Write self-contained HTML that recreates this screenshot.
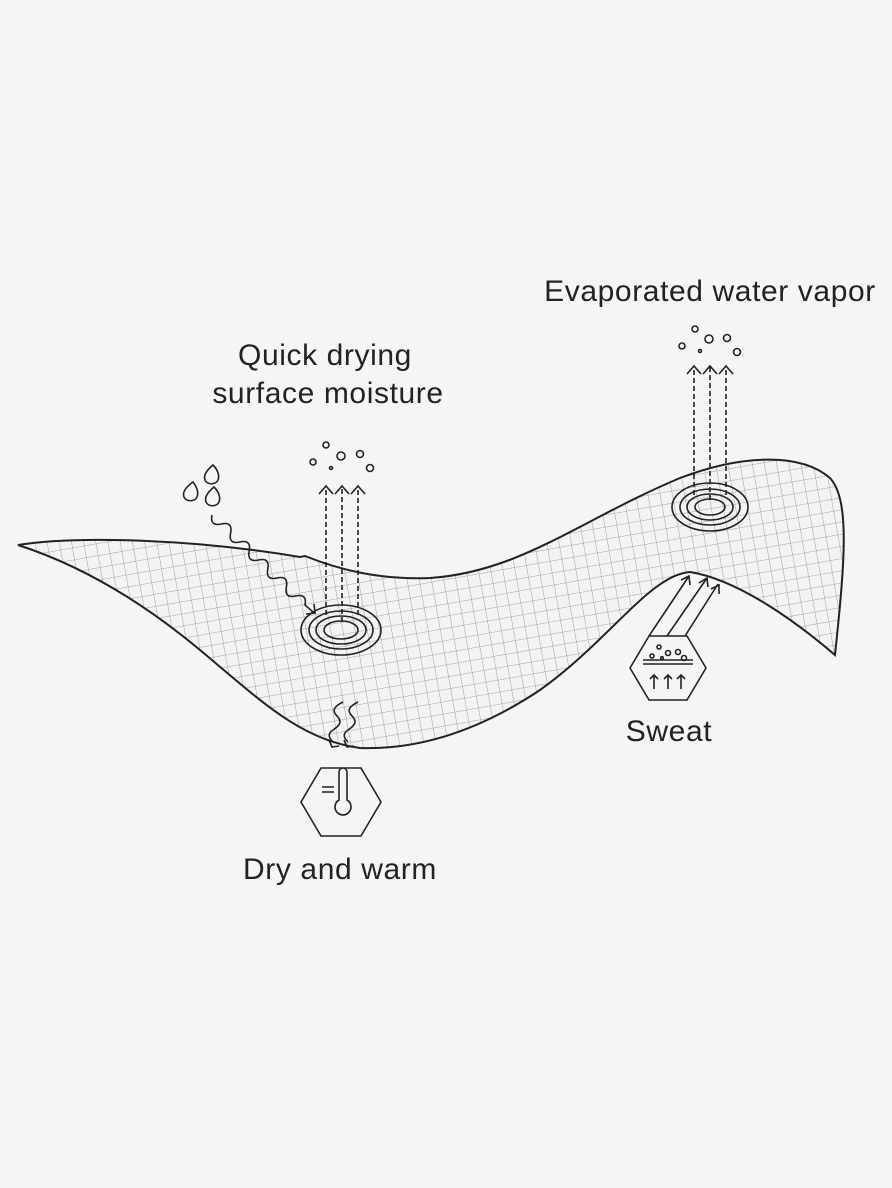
<!DOCTYPE html>
<html><head><style>
html,body{margin:0;padding:0;background:#f5f5f5;}
svg{display:block}
text{font-family:"Liberation Sans",sans-serif;fill:#222;font-size:30px;letter-spacing:0.6px;}
</style></head><body>
<svg width="892" height="1188" viewBox="0 0 892 1188" xmlns="http://www.w3.org/2000/svg">
<defs>
<pattern id="g" width="12" height="12" patternUnits="userSpaceOnUse" patternTransform="rotate(-10)">
<path d="M0 0H12M0 0V12" stroke="#8a8a8a" stroke-width="0.8" fill="none"/>
</pattern>
<clipPath id="c"><path d="M18 545 C80 535 200 540 300 557 L305 556 C340 570 380 580 430 578 C520 572 580 520 680 478 C740 455 800 452 830 478 C850 500 845 560 835 655 C800 625 740 580 690 572 C650 575 610 640 540 690 C480 730 420 750 360 748 C300 740 260 700 200 650 C140 600 80 565 18 545 Z"/></clipPath>
</defs>
<g clip-path="url(#c)"><rect x="0" y="400" width="892" height="400" fill="#f3f3f3"/><rect x="0" y="400" width="892" height="400" fill="url(#g)"/></g>
<path d="M18 545 C80 535 200 540 300 557 L305 556 C340 570 380 580 430 578 C520 572 580 520 680 478 C740 455 800 452 830 478 C850 500 845 560 835 655 C800 625 740 580 690 572 C650 575 610 640 540 690 C480 730 420 750 360 748 C300 740 260 700 200 650 C140 600 80 565 18 545 Z" fill="none" stroke="#222" stroke-width="2"/>

<g fill="none" stroke="#222" stroke-width="1.6">
<ellipse cx="341" cy="630" rx="40" ry="25"/><ellipse cx="341" cy="630" rx="32" ry="19"/><ellipse cx="341" cy="630" rx="25" ry="14"/><ellipse cx="341" cy="630" rx="17" ry="9"/>
<ellipse cx="710" cy="507" rx="38" ry="24"/><ellipse cx="710" cy="507" rx="30" ry="18"/><ellipse cx="710" cy="507" rx="23" ry="13"/><ellipse cx="710" cy="507" rx="15" ry="8"/>
<g stroke-dasharray="5 3"><path d="M326 615V486M342 622V486M358 615V486"/><path d="M694 495V366M710 500V366M726 495V366"/></g>
<path d="M319 494l7-8 7 8M335 494l7-8 7 8M351 494l7-8 7 8M687 374l7-8 7 8M703 374l7-8 7 8M719 374l7-8 7 8"/>
<circle cx="326" cy="445" r="3"/><circle cx="341" cy="456" r="4"/><circle cx="360" cy="454" r="3.5"/><circle cx="313" cy="462" r="3"/><circle cx="331" cy="468" r="1.5"/><circle cx="370" cy="468" r="3.5"/>
<circle cx="695" cy="329" r="3"/><circle cx="709" cy="339" r="4"/><circle cx="727" cy="338" r="3.5"/><circle cx="682" cy="346" r="3"/><circle cx="700" cy="351" r="1.5"/><circle cx="737" cy="352" r="3.5"/>
<path d="M213 465c-6 5-10 10-8 15 2 5 11 5 13 0 2-5-1-11-5-15z"/>
<path d="M193 482c-7 5-11 10-9 15 2 5 11 5 13 0 2-5-1-11-4-15z"/>
<path d="M214 487c-6 5-10 10-8 15 2 5 11 5 13 0 2-5-1-11-5-15z"/>
<path d="M212 515q-2.25 11.7 9.3 9q11.55-2.7 9.3 9q-2.25 11.7 9.3 9q11.55-2.7 9.3 9q-2.25 11.7 9.3 9q11.55-2.7 9.3 9q-2.25 11.7 9.3 9q11.55-2.7 9.3 9q-2.25 11.7 9.3 9q11.55-2.7 9.3 9l8 7"/>
<path d="M306 614l9-1-1-9"/>
<path d="M343 702c-8 4-12 8-6 14s2 10-4 14-4 8 0 12"/>
<path d="M358 702c-8 4-12 8-6 14s2 10-4 14-4 8 0 12"/>
<path d="M329 740l3 7 7-1M344 740l3 7 7-1"/>
<path d="M301 802l20-34h40l20 34-20 34h-40z"/>
<path d="M339 800v-28a4 4 0 0 1 8 0v28a8 8 0 1 1-8 0z"/>
<path d="M322 787h12M322 792h12"/>
<path d="M630 668l19-32h38l19 32-19 32h-38z"/>
<path d="M643 660h50M643 664h50"/>
<path d="M654 689v-14M668 689v-14M681 689v-14M650 679l4-4 4 4M664 679l4-4 4 4M677 679l4-4 4 4"/>
<circle cx="659" cy="647" r="2"/><circle cx="668" cy="653" r="2.5"/><circle cx="678" cy="652" r="2.5"/><circle cx="652" cy="656" r="2"/><circle cx="662" cy="658" r="1.3"/><circle cx="684" cy="658" r="2.5"/>
<path d="M649 636l40-60M667 636l40-58M685 636l33-52"/>
<path d="M681 580l8-4 1 9M699 583l8-5 1 9M711 589l8-4 0 9"/>
</g>
<text x="710" y="301" text-anchor="middle">Evaporated water vapor</text>
<text x="325" y="365" text-anchor="middle">Quick drying</text>
<text x="328" y="403" text-anchor="middle">surface moisture</text>
<text x="669" y="741" text-anchor="middle">Sweat</text>
<text x="340" y="879" text-anchor="middle">Dry and warm</text>
</svg>
</body></html>
